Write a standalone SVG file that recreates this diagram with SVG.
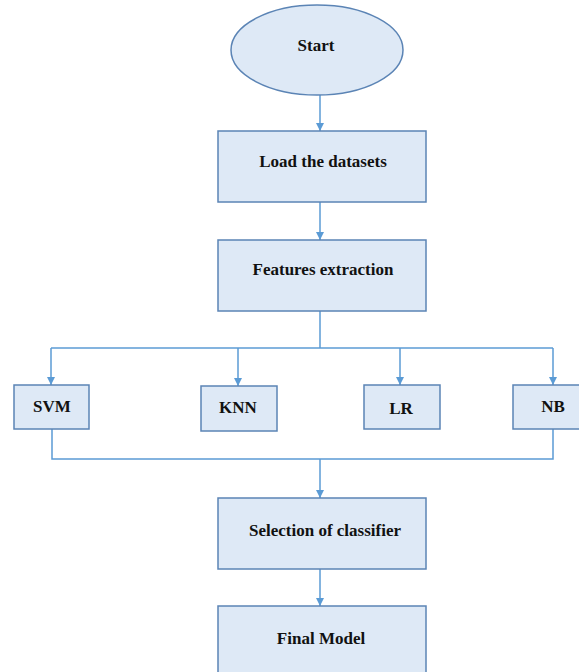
<svg xmlns="http://www.w3.org/2000/svg" width="579" height="672" viewBox="0 0 579 672">
<style>
.n{fill:#dee9f6;stroke:#5b84b5;stroke-width:1.5}
.t{font-family:"Liberation Serif","Times New Roman",serif;font-weight:bold;font-size:17px;fill:#111;text-anchor:middle}
.c{fill:none;stroke:#5b9bd5;stroke-width:1.5}
</style>
<defs>
<marker id="ah" viewBox="0 0 10 10" refX="10" refY="5" markerWidth="8" markerHeight="8" markerUnits="userSpaceOnUse" orient="auto">
<path d="M0,0 L10,5 L0,10 Z" fill="#5b9bd5"/>
</marker>
</defs>
<rect width="579" height="672" fill="#fff"/>
<g id="connectors">
<path class="c" d="M320,95 V131" marker-end="url(#ah)"/>
<path class="c" d="M320,202 V240" marker-end="url(#ah)"/>
<path class="c" d="M320,311 V348"/>
<path class="c" d="M51,348 H553"/>
<path class="c" d="M51,348 V385" marker-end="url(#ah)"/>
<path class="c" d="M238,348 V386" marker-end="url(#ah)"/>
<path class="c" d="M400,348 V385" marker-end="url(#ah)"/>
<path class="c" d="M553,348 V385" marker-end="url(#ah)"/>
<path class="c" d="M52,429 V459 H553 V429"/>
<path class="c" d="M320,459 V498" marker-end="url(#ah)"/>
<path class="c" d="M320,569 V606" marker-end="url(#ah)"/>
</g>
<g id="start"><ellipse class="n" cx="317" cy="50" rx="86" ry="45"/><text class="t" x="316" y="51">Start</text></g>
<g id="load"><rect class="n" x="218" y="131" width="208" height="71"/><text class="t" x="323" y="167">Load the datasets</text></g>
<g id="features"><rect class="n" x="218" y="240" width="208" height="71"/><text class="t" x="323" y="275">Features extraction</text></g>
<g id="svm"><rect class="n" x="14" y="385" width="75" height="44"/><text class="t" x="52" y="412">SVM</text></g>
<g id="knn"><rect class="n" x="201" y="386" width="76" height="45"/><text class="t" x="238" y="413">KNN</text></g>
<g id="lr"><rect class="n" x="364" y="385" width="76" height="44"/><text class="t" x="401" y="414">LR</text></g>
<g id="nb"><rect class="n" x="513" y="385" width="76" height="44"/><text class="t" x="553" y="412">NB</text></g>
<g id="selection"><rect class="n" x="218" y="498" width="208" height="71"/><text class="t" x="325" y="536">Selection of classifier</text></g>
<g id="final"><rect class="n" x="218" y="606" width="208" height="72"/><text class="t" x="321" y="644">Final Model</text></g>
</svg>
